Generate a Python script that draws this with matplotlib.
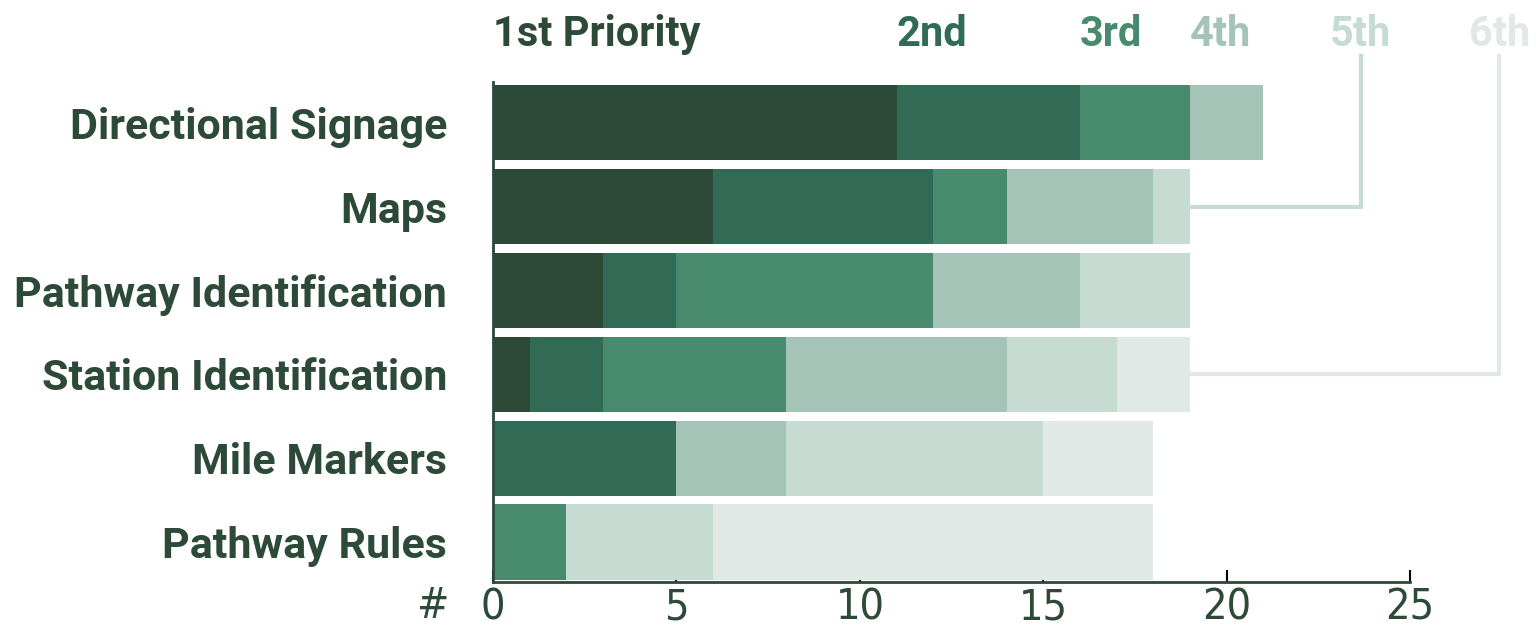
import matplotlib.pyplot as plt
import numpy as np

# data
categories = ["Directional Signage", "Maps", "Pathway Identification",
              "Station Identification", "Mile Markers", "Pathway Rules"]
priorities = ["1st Priority", "2nd", "3rd", "4th", "5th", "6th"]
p1 = [11, 6, 3, 1, 0, 0]
p2 = [5, 6, 2, 2, 5, 0]
p3 = [3, 2, 7, 5, 0, 2]
p4 = [2, 4, 4, 6, 3, 0]
p5 = [0, 1, 3, 3, 7, 4]
p6 = [0, 0, 0, 2, 3, 12]
colors = ["#2c4a37", "#316b56", "#478a6e", "#a5c4b8", "#c6dbd2", "#e0e9e5"]
xticks = [0, 5, 10, 15, 20, 25]

dark = "#2c4a37"
plt.rcParams['font.family'] = ['Roboto', 'DejaVu Sans']

fig = plt.figure(figsize=(15.36, 6.3), dpi=100)
ax = fig.add_axes([0.321, 0.0762, 0.597, 0.7937])

series = [p1, p2, p3, p4, p5, p6]
y = np.arange(len(categories))
left = np.zeros(len(categories))
for vals, c in zip(series, colors):
    ax.barh(y, vals, left=left, height=0.9, color=c, zorder=3)
    left += np.array(vals)

ax.set_xlim(0, 25)
ax.set_ylim(len(categories) - 1 + 0.45 + 0.024, -0.45 - 0.036)

# header labels placed along the first bar, 5th/6th over the connector lines
tot0 = np.cumsum([s[0] for s in series])
hdr_x = [0, tot0[0], tot0[1], tot0[2]]
line_x = [23.66, 27.43]
hdr_y = -0.91
for i in range(4):
    ax.text(hdr_x[i], hdr_y, priorities[i], color=colors[i], fontsize=30,
            fontweight='bold', ha='left', va='baseline', clip_on=False)
for j, i in enumerate([4, 5]):
    ax.text(line_x[j], hdr_y, priorities[i], color=colors[i], fontsize=30,
            fontweight='bold', ha='center', va='baseline', clip_on=False)

# connector lines: Maps -> 5th, Station Identification -> 6th
for j, (row, col) in enumerate([(1, 4), (3, 5)]):
    end = sum(s[row] for s in series)
    ax.plot([end, line_x[j], line_x[j]], [row, row, -0.8],
            color=colors[col], lw=3, clip_on=False, zorder=2,
            solid_joinstyle='miter')

ax.set_yticks(y)
ax.set_yticklabels(categories, fontsize=31, fontweight='bold', color=dark)
ax.tick_params(axis='y', length=0, pad=33)

tick_font = dict(family='DejaVu Sans', stretch='condensed', weight='light')
ax.set_xticks(xticks)
ax.set_xticklabels([str(t) for t in xticks], fontsize=31, color=dark, **tick_font)
ax.tick_params(axis='x', direction='in', length=9, width=1.5, color='black', pad=3)
ax.text(-1.64, -0.048, "#", transform=ax.get_xaxis_transform(),
        fontsize=31, color=dark, ha='center', va='center', **tick_font)

for s in ['top', 'right']:
    ax.spines[s].set_visible(False)
for s in ['left', 'bottom']:
    ax.spines[s].set_color(dark)
    ax.spines[s].set_linewidth(2)
    ax.spines[s].set_zorder(4)

fig.savefig("out.png", dpi=100)
